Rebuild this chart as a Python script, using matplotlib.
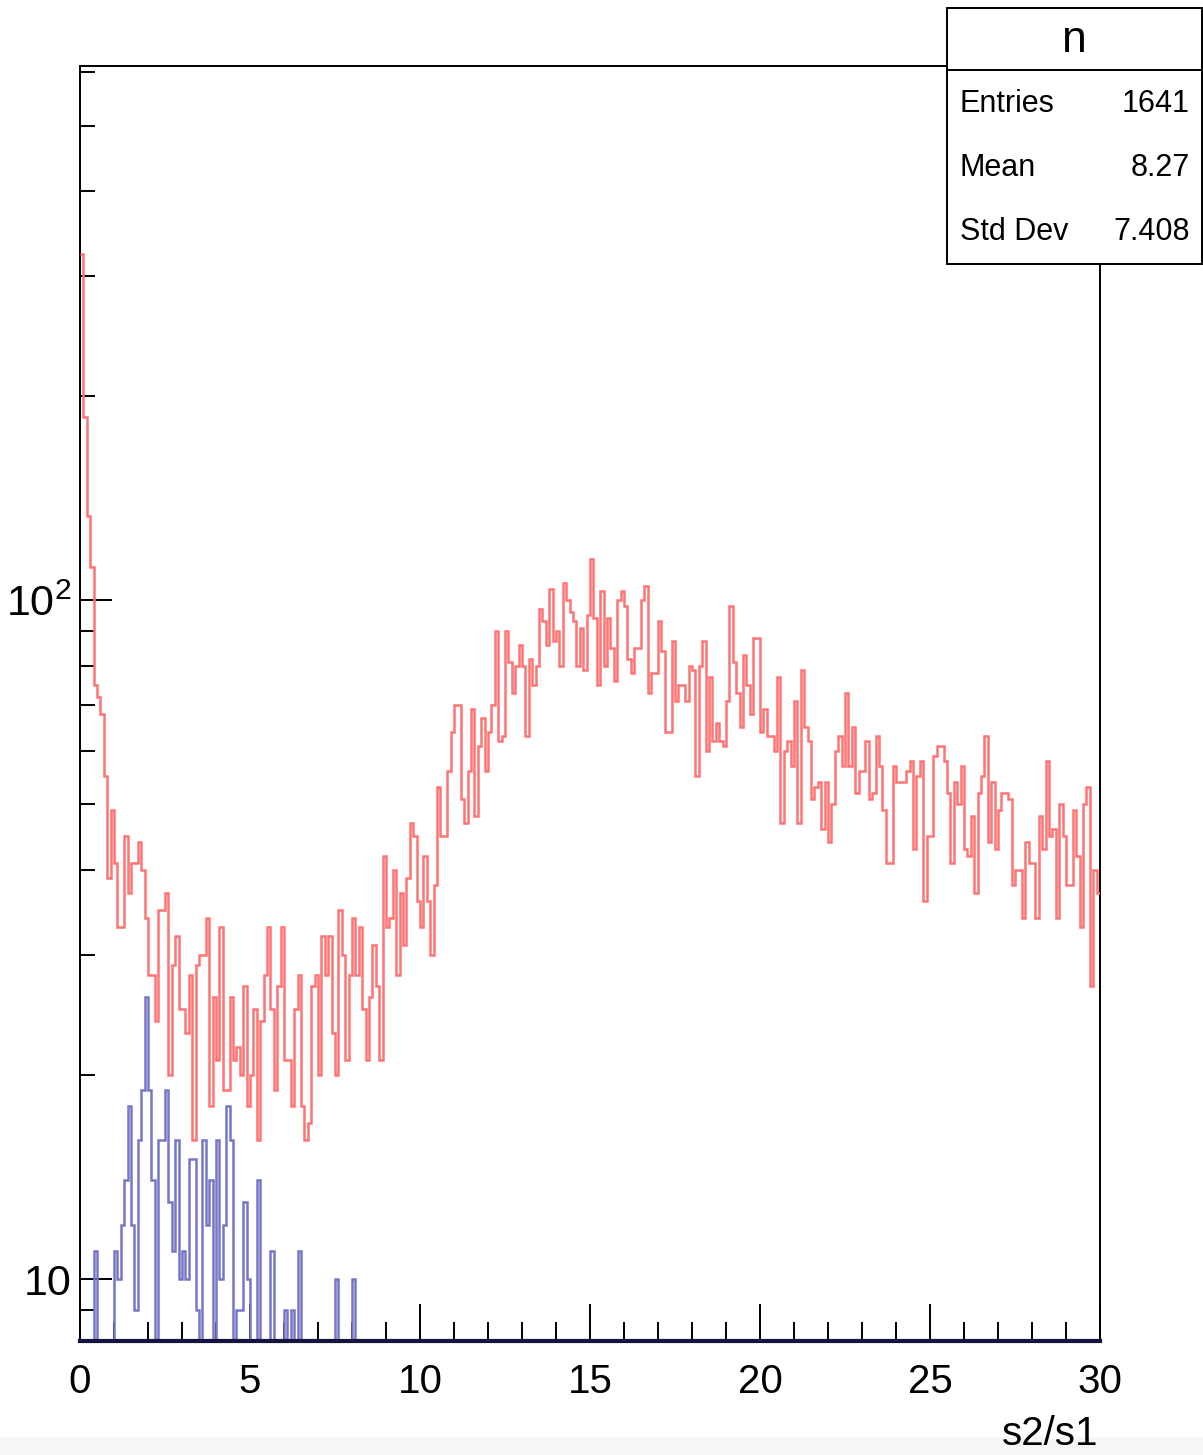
import numpy as np
import matplotlib
matplotlib.use("Agg")
import matplotlib.pyplot as plt
from matplotlib.lines import Line2D
from matplotlib.patches import Rectangle
from matplotlib.ticker import FixedFormatter, FixedLocator, MultipleLocator, NullFormatter

plt.rcParams["font.family"] = ["Liberation Sans", "DejaVu Sans"]
plt.rcParams["mathtext.fontset"] = "custom"
plt.rcParams["mathtext.rm"] = "Liberation Sans"

# histogram binning: 300 bins of 0.1 on [0, 30]
x_min, x_max, n_bins = 0.0, 30.0, 300

# red histogram (counts per bin)
red_counts = [
    323, 186, 133, 112, 75, 72, 68, 55, 39, 49,
    41, 33, 33, 45, 37, 41, 41, 44, 40, 34,
    28, 28, 24, 35, 35, 37, 20, 29, 32, 25,
    25, 23, 28, 16, 29, 30, 30, 34, 18, 26,
    21, 33, 19, 19, 26, 21, 22, 20, 27, 18,
    20, 25, 16, 24, 28, 33, 25, 19, 27, 33,
    21, 21, 18, 25, 28, 18, 16, 17, 27, 28,
    20, 32, 28, 32, 23, 20, 35, 30, 21, 28,
    34, 28, 33, 25, 21, 26, 31, 27, 21, 42,
    33, 34, 40, 28, 37, 31, 39, 47, 45, 36,
    33, 42, 36, 30, 38, 53, 45, 45, 56, 64,
    70, 70, 51, 47, 56, 69, 48, 61, 67, 56,
    64, 70, 90, 62, 63, 90, 81, 73, 80, 86,
    80, 63, 82, 75, 80, 97, 93, 86, 104, 87,
    90, 80, 106, 100, 96, 93, 80, 91, 79, 95,
    115, 94, 75, 103, 80, 94, 85, 76, 100, 103,
    98, 82, 78, 85, 85, 100, 105, 73, 78, 78,
    93, 84, 64, 64, 87, 71, 75, 75, 71, 80,
    79, 55, 80, 87, 60, 77, 62, 66, 62, 61,
    71, 98, 81, 73, 65, 83, 75, 68, 88, 88,
    64, 69, 63, 63, 60, 77, 47, 60, 62, 57,
    71, 47, 79, 65, 62, 51, 53, 54, 46, 54,
    44, 50, 60, 63, 57, 73, 57, 65, 52, 56,
    56, 62, 51, 52, 63, 57, 49, 41, 41, 57,
    54, 54, 54, 56, 58, 43, 55, 58, 36, 45,
    45, 59, 61, 61, 58, 52, 41, 54, 50, 57,
    43, 42, 48, 37, 52, 55, 63, 44, 54, 43,
    49, 52, 52, 51, 38, 40, 40, 34, 44, 41,
    41, 34, 48, 43, 58, 45, 46, 34, 50, 45,
    38, 38, 49, 42, 33, 50, 53, 27, 40, 37,
]

# blue histogram, first 82 bins (empty beyond)
blue_counts = [
    0, 0, 0, 0, 11, 0, 0, 0, 0, 0,
    11, 10, 12, 14, 18, 12, 9, 16, 19, 26,
    19, 14, 0, 16, 16, 19, 13, 11, 16, 10,
    11, 10, 15, 15, 9, 0, 16, 12, 14, 0,
    16, 10, 12, 18, 16, 0, 9, 9, 13, 10,
    0, 0, 14, 0, 0, 0, 11, 0, 0, 0,
    9, 0, 9, 0, 11, 0, 0, 0, 0, 0,
    0, 0, 0, 0, 0, 10, 0, 0, 0, 0,
    10, 0,
]

x_ticks = [0, 5, 10, 15, 20, 25, 30]
y_major = [10, 100]
y_major_labels = ["10", r"$\mathregular{10^{2}}$"]
y_minor = [9, 20, 30, 40, 50, 60, 70, 80, 90, 200, 300, 400, 500, 600]

stats_title = "n"
stats_rows = [("Entries", "1641"), ("Mean", "8.27"), ("Std Dev", "7.408")]
x_title = "s2/s1"

W, H = 1203, 1455
fig = plt.figure(figsize=(W / 100, H / 100), dpi=100)
ax = fig.add_axes([80 / W, 1 - 1341 / H, 1020 / W, 1275 / H])

edges = np.linspace(x_min, x_max, n_bins + 1)
ax.set_yscale("log", nonpositive="clip")
ax.stairs(red_counts, edges, color="#ff7474", linewidth=1.8, baseline=None, zorder=3)
ax.stairs(blue_counts, edges[: len(blue_counts) + 1], color="#7676c8",
          linewidth=1.8, baseline=None, zorder=2)

ax.set_xlim(x_min, x_max)
ax.set_ylim(8.104, 611.8)

ax.xaxis.set_major_locator(FixedLocator(x_ticks))
ax.xaxis.set_minor_locator(MultipleLocator(1))
ax.yaxis.set_major_locator(FixedLocator(y_major))
ax.yaxis.set_major_formatter(FixedFormatter(y_major_labels))
ax.yaxis.set_minor_locator(FixedLocator(y_minor))
ax.yaxis.set_minor_formatter(NullFormatter())

ax.tick_params(axis="x", which="major", direction="in", length=27, width=1.4,
               labelsize=29, pad=16, top=False)
ax.tick_params(axis="x", which="minor", direction="in", length=14, width=1.4, top=False)
ax.tick_params(axis="y", which="major", direction="in", length=23, width=1.4,
               labelsize=31, pad=6, right=False)
ax.tick_params(axis="y", which="minor", direction="in", length=11, width=1.4, right=False)

for side in ["left", "right", "top"]:
    ax.spines[side].set_linewidth(1.4)
    ax.spines[side].set_color("black")
ax.spines["bottom"].set_linewidth(3.0)
ax.spines["bottom"].set_color("#14143c")

fig.text(1098 / W, 1 - 1434 / H, x_title, ha="right", va="center", fontsize=29)

# light strip at the very bottom of the screenshot
fig.patches.append(Rectangle((0, 0), 1, 18 / H, transform=fig.transFigure,
                             facecolor="#f6f6f6", edgecolor="none", zorder=0))

# stats box
bx0, bx1, by0, by1, bsep = 947, 1202, 8, 264, 70
fig.patches.append(Rectangle((bx0 / W, 1 - by1 / H), (bx1 - bx0) / W, (by1 - by0) / H,
                             transform=fig.transFigure, facecolor="white",
                             edgecolor="black", linewidth=1.4, zorder=10))
fig.lines.append(Line2D([bx0 / W, bx1 / W], [1 - bsep / H, 1 - bsep / H],
                        transform=fig.transFigure, color="black", linewidth=1.4, zorder=11))
fig.text((bx0 + bx1) / 2 / W, 1 - 40 / H, stats_title, ha="center", va="center",
         fontsize=32, zorder=12)
row_y = [104, 168, 232]
for (name, value), yy in zip(stats_rows, row_y):
    fig.text(960 / W, 1 - yy / H, name, ha="left", va="center", fontsize=22, zorder=12)
    fig.text(1190 / W, 1 - yy / H, value, ha="right", va="center", fontsize=22, zorder=12)

fig.savefig("out.png", dpi=100, facecolor="white")
